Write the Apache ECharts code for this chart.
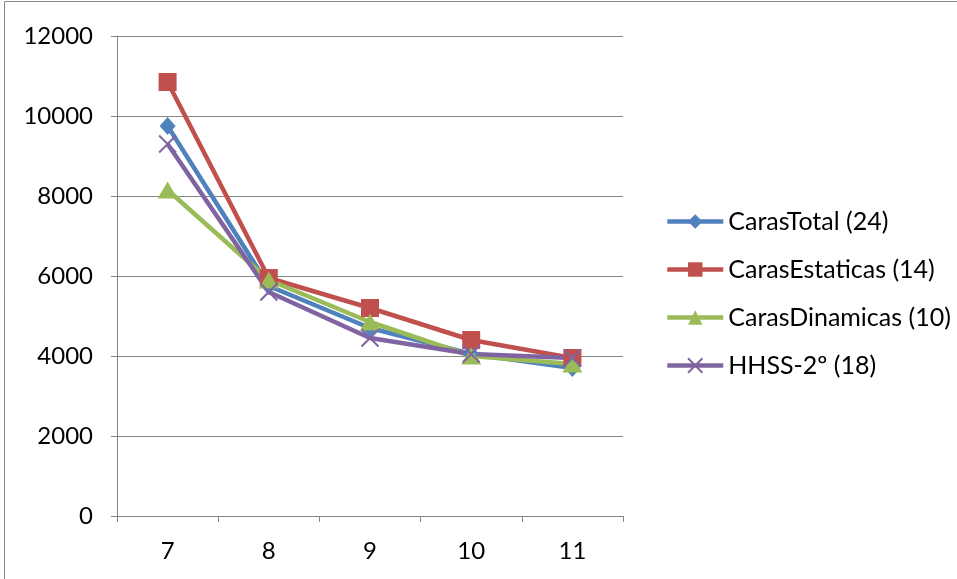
<!DOCTYPE html>
<html>
<head>
<meta charset="utf-8">
<script src="https://cdn.jsdelivr.net/npm/echarts@6/dist/echarts.min.js"></script>
<style>
  html, body { margin: 0; padding: 0; background: #ffffff; }
  #chart { width: 957px; height: 579px; }
</style>
</head>
<body>
<div id="chart"></div>
<script>
// Categories on the x axis
const categories = ['7', '8', '9', '10', '11'];

// Series values
const carasTotal = [9750, 5750, 4700, 4050, 3700];
const carasEstaticas = [10850, 5950, 5200, 4400, 3950];
const carasDinamicas = [8150, 5900, 4850, 4000, 3800];
const hhss = [9300, 5600, 4450, 4050, 3950];

// Series names as shown in the legend
const seriesNames = ['CarasTotal (24)', 'CarasEstaticas (14)', 'CarasDinamicas (10)', 'HHSS-2º (18)'];

const FONT = 'Lato';
const AXIS_GREY = '#868686';

const chart = echarts.init(document.getElementById('chart'), null, { renderer: 'canvas' });

function lineSeries(name, data, color, symbol, size, extraItem) {
  return {
    name: name,
    type: 'line',
    data: data,
    symbol: symbol,
    symbolSize: size,
    showAllSymbol: true,
    lineStyle: { color: color, width: 4.5 },
    itemStyle: Object.assign({ color: color }, extraItem || {}),
    emphasis: { disabled: true },
    animation: false
  };
}

chart.setOption({
  backgroundColor: '#ffffff',
  animation: false,
  graphic: [{
    type: 'rect',
    shape: { x: 4.5, y: 1.5, width: 1000, height: 700 },
    style: { fill: 'none', stroke: AXIS_GREY, lineWidth: 1 },
    silent: true
  }],
  grid: { left: 117, right: 334, top: 36, bottom: 63 },
  legend: {
    orient: 'vertical',
    left: 660,
    top: 204,
    itemWidth: 56,
    itemHeight: 18,
    itemGap: 23,
    lineStyle: { width: 4.5 },
    textStyle: { fontFamily: FONT, fontSize: 25, lineHeight: 24, color: '#000000' },
    data: seriesNames
  },
  xAxis: {
    type: 'category',
    data: categories,
    boundaryGap: true,
    axisLine: { lineStyle: { color: AXIS_GREY, width: 1 } },
    axisTick: { show: true, length: 6, lineStyle: { color: AXIS_GREY } },
    axisLabel: { fontFamily: FONT, fontSize: 24, color: '#000000', margin: 23 },
    splitLine: { show: false }
  },
  yAxis: {
    type: 'value',
    min: 0,
    max: 12000,
    interval: 2000,
    axisLine: { show: true, lineStyle: { color: AXIS_GREY, width: 1 } },
    axisTick: { show: true, length: 6, lineStyle: { color: AXIS_GREY } },
    axisLabel: { fontFamily: FONT, fontSize: 24, color: '#000000', margin: 24, formatter: (v) => String(v) },
    splitLine: { show: true, lineStyle: { color: AXIS_GREY, width: 1 } }
  },
  series: [
    lineSeries(seriesNames[0], carasTotal, '#4F81BD', 'diamond', [16, 18]),
    lineSeries(seriesNames[1], carasEstaticas, '#C0504D', 'rect', 18),
    lineSeries(seriesNames[2], carasDinamicas, '#9BBB59', 'triangle', [20, 17]),
    lineSeries(seriesNames[3], hhss, '#8064A2', 'path://M0,0L10,10M10,0L0,10', 17,
      { borderColor: '#8064A2', borderWidth: 2 })
  ]
});
</script>
</body>
</html>
